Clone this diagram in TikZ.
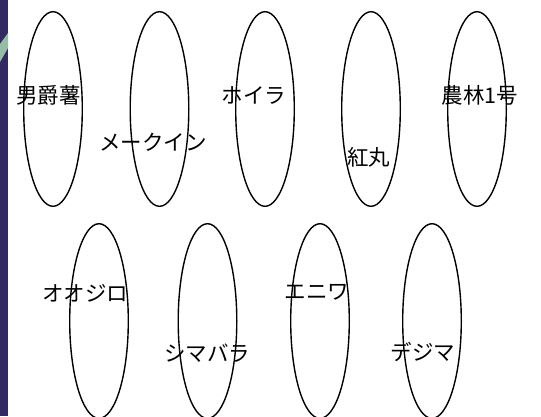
\documentclass[tikz,border=0pt]{standalone}
\usepackage{fontspec}
\newfontfamily\jpfont{Noto Sans CJK JP}
\usetikzlibrary{shapes.geometric}

\definecolor{slate}{RGB}{52,42,98}
\definecolor{leaf}{RGB}{150,188,168}

\tikzset{
    tuber/.style={draw, ellipse, line width=1.4pt, minimum width=58.6pt, minimum height=194.6pt, inner sep=0pt},
    kind/.style={font=\jpfont\fontsize{21.5}{24}\selectfont, inner sep=0pt}
}

\begin{document}
\begin{tikzpicture}[x=1pt,y=-1pt]

    \useasboundingbox (0,0) rectangle (541,416);
    \fill[white] (0,0) rectangle (541,416);
    \fill[slate] (0,0) rectangle (8,416);
    \fill[leaf] (0,44) -- (8,33) -- (8,48) -- (0,62) -- cycle;

    \node[tuber] (E1) at (53,109) {};
    \node[tuber] (E2) at (159.5,109) {};
    \node[tuber] (E3) at (265,109) {};
    \node[tuber] (E4) at (371,109) {};
    \node[tuber] (E5) at (477,109) {};
    \node[tuber] (E6) at (99,321) {};
    \node[tuber] (E7) at (207.5,321) {};
    \node[tuber] (E8) at (320,321) {};
    \node[tuber] (E9) at (432,321) {};

    \node[kind] (L1) at (48.5,95.5) {男爵薯};
    \node[kind] (L2) at (153,142) {メークイン};
    \node[kind] (L3) at (254,96) {ホイラ};
    \node[kind] (L4) at (368.5,157) {紅丸};
    \node[kind] (L5) at (480,95.5) {農林1号};
    \node[kind] (L6) at (85,293) {オオジロ};
    \node[kind] (L7) at (207,353) {シマバラ};
    \node[kind] (L8) at (317,292) {エニワ};
    \node[kind] (L9) at (423,352) {デジマ};

\end{tikzpicture}
\end{document}
